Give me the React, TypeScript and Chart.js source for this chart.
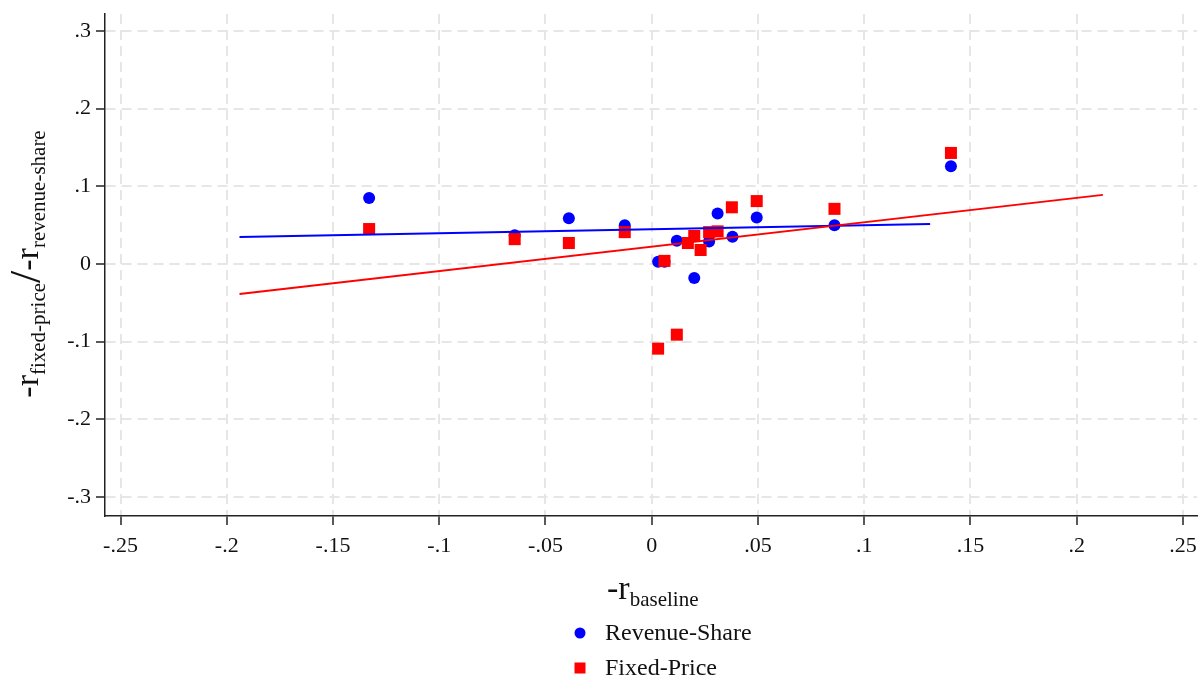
import React, { useEffect, useRef } from "react";
import { Chart, registerables } from "chart.js";

Chart.register(...registerables);

// Revenue-Share points
const rsX = [-0.133, -0.0645, -0.039, -0.0127, 0.003, 0.006, 0.0118, 0.02, 0.027, 0.031, 0.038, 0.0494, 0.086, 0.1408];
const rsY = [0.085, 0.037, 0.059, 0.05, 0.003, 0.003, 0.03, -0.018, 0.029, 0.065, 0.035, 0.06, 0.05, 0.126];
// Fixed-Price points
const fpX = [-0.133, -0.0645, -0.039, -0.0127, 0.003, 0.006, 0.0118, 0.017, 0.02, 0.023, 0.027, 0.031, 0.0377, 0.0494, 0.086, 0.1408];
const fpY = [0.045, 0.032, 0.027, 0.041, -0.109, 0.004, -0.091, 0.027, 0.036, 0.018, 0.041, 0.042, 0.073, 0.081, 0.071, 0.143];
// Fitted lines
const rsFitX = [-0.194, 0.131];
const rsFitY = [0.0348, 0.0515];
const fpFitX = [-0.194, 0.2123];
const fpFitY = [-0.0386, 0.089];
// Ticks
const xTicks = [-0.25, -0.2, -0.15, -0.1, -0.05, 0, 0.05, 0.1, 0.15, 0.2, 0.25];
const yTicks = [-0.3, -0.2, -0.1, 0, 0.1, 0.2, 0.3];
const legendLabels = ["Revenue-Share", "Fixed-Price"];

const FONT = '"Liberation Serif", "DejaVu Serif", serif';

const fmt = (v: number) => {
  const r = Math.round(v * 1000) / 1000;
  if (r === 0) return "0";
  const s = String(Math.abs(r)).replace(/^0/, "");
  return (r < 0 ? "-" : "") + s;
};

const pts = (xs: number[], ys: number[]) => xs.map((x, i) => ({ x, y: ys[i] }));

const decor = {
  id: "decor",
  afterDraw(chart: any) {
    const ctx = chart.ctx as CanvasRenderingContext2D;
    const area = chart.chartArea;
    ctx.save();
    ctx.fillStyle = "#111";
    // X title: -r_baseline
    const big = `34px ${FONT}`;
    const sub = `21px ${FONT}`;
    ctx.textBaseline = "alphabetic";
    ctx.font = big;
    const wR = ctx.measureText("-r").width;
    const x0 = 607;
    const by = 599;
    ctx.fillText("-r", x0, by);
    ctx.font = sub;
    ctx.fillText("baseline", x0 + wR, by + 7);

    // Y title rotated
    ctx.save();
    ctx.translate(38, 264);
    ctx.rotate(-Math.PI / 2);
    const slash = `44px ${FONT}`;
    const parts = [
      { t: "-r", f: big, dy: 0 },
      { t: "fixed-price", f: sub, dy: 7 },
      { t: "/", f: slash, dy: 2 },
      { t: "-r", f: big, dy: 0 },
      { t: "revenue-share", f: sub, dy: 7 },
    ];
    let total = 0;
    const widths = parts.map((p) => {
      ctx.font = p.f;
      const w = ctx.measureText(p.t).width;
      total += w;
      return w;
    });
    let px = -total / 2;
    parts.forEach((p, i) => {
      ctx.font = p.f;
      ctx.fillText(p.t, px, p.dy);
      px += widths[i];
    });
    ctx.restore();

    // Legend
    ctx.font = `24px ${FONT}`;
    ctx.textBaseline = "middle";
    ctx.fillStyle = "#0000ff";
    ctx.beginPath();
    ctx.arc(580, 633, 5.5, 0, Math.PI * 2);
    ctx.fill();
    ctx.fillStyle = "#ff0000";
    ctx.fillRect(574.5, 662.5, 11, 11);
    ctx.fillStyle = "#111";
    ctx.fillText(legendLabels[0], 605, 634);
    ctx.fillText(legendLabels[1], 605, 669);
    ctx.restore();
  },
};

const gridOpts = {
  color: "#e6e6e6",
  lineWidth: 2,
  tickColor: "#222",
  tickLength: 9,
  tickWidth: 1.5,
  tickBorderDash: [],
};
const borderOpts = { display: true, color: "#222", width: 1.5, dash: [10, 6] };

export default function App() {
  const ref = useRef<HTMLCanvasElement | null>(null);
  useEffect(() => {
    if (!ref.current) return;
    const chart = new Chart(ref.current, {
      type: "scatter",
      data: {
        datasets: [
          {
            label: legendLabels[0],
            data: pts(rsX, rsY),
            backgroundColor: "#0000ff",
            borderColor: "#0000ff",
            pointStyle: "circle",
            pointRadius: 6,
            borderWidth: 0,
            order: 4,
          },
          {
            label: legendLabels[1],
            data: pts(fpX, fpY),
            backgroundColor: "#ff0000",
            borderColor: "#ff0000",
            pointStyle: "rect",
            pointRadius: 8.5,
            borderWidth: 0,
            order: 3,
          },
          {
            label: "rs fit",
            data: pts(rsFitX, rsFitY),
            showLine: true,
            borderColor: "#0000ff",
            borderWidth: 2,
            pointRadius: 0,
            order: 2,
          },
          {
            label: "fp fit",
            data: pts(fpFitX, fpFitY),
            showLine: true,
            borderColor: "#ff0000",
            borderWidth: 2,
            pointRadius: 0,
            order: 1,
          },
        ],
      },
      options: {
        responsive: false,
        animation: false,
        layout: { autoPadding: false, padding: { top: 14, right: 3, left: 0, bottom: 0 } },
        plugins: { legend: { display: false }, tooltip: { enabled: false } },
        scales: {
          x: {
            type: "linear",
            min: -0.2573,
            max: 0.2566,
            afterBuildTicks: (axis: any) => {
              axis.ticks = xTicks.map((v) => ({ value: v }));
            },
            afterFit: (axis: any) => {
              axis.height = 163;
              axis.paddingLeft = 0;
              axis.paddingRight = 0;
            },
            ticks: {
              callback: (v: any) => fmt(Number(v)),
              font: { family: FONT, size: 22 },
              color: "#111",
              padding: 8,
              maxRotation: 0,
              autoSkip: false,
            },
            grid: gridOpts,
            border: borderOpts,
          },
          y: {
            type: "linear",
            min: -0.3245,
            max: 0.3219,
            afterBuildTicks: (axis: any) => {
              axis.ticks = yTicks.map((v) => ({ value: v }));
            },
            afterFit: (axis: any) => {
              axis.width = 105;
              axis.paddingTop = 0;
              axis.paddingBottom = 0;
            },
            ticks: {
              callback: (v: any) => fmt(Number(v)),
              font: { family: FONT, size: 22 },
              color: "#111",
              padding: 5,
              autoSkip: false,
            },
            grid: gridOpts,
            border: borderOpts,
          },
        },
      } as any,
      plugins: [decor],
    });
    return () => chart.destroy();
  }, []);
  return (
    <div style={{ position: "fixed", left: 0, top: 0, width: 1200, height: 679, background: "#fff" }}>
      <canvas ref={ref} width={1200} height={679} style={{ display: "block" }} />
    </div>
  );
}
